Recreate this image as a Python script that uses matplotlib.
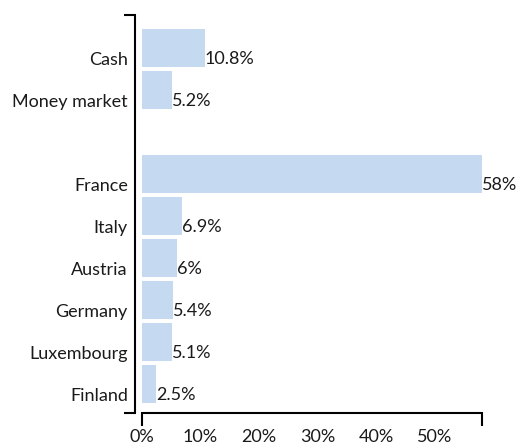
import matplotlib
matplotlib.use("Agg")
import matplotlib.pyplot as plt
from matplotlib.lines import Line2D

# data
categories = ["Cash", "Money market", "", "France", "Italy", "Austria", "Germany", "Luxembourg", "Finland"]
values = [10.8, 5.2, None, 58, 6.9, 6.0, 5.4, 5.1, 2.5]
x_ticks = [0, 10, 20, 30, 40, 50]
x_tick_labels = ["0%", "10%", "20%", "30%", "40%", "50%"]

plt.rcParams["font.family"] = ["Lato", "DejaVu Sans"]
W, H = 523, 448
fig = plt.figure(figsize=(W / 100, H / 100), dpi=100)

def fx(px):
    return px / W

def fy(py):
    return 1 - py / H

ax = fig.add_axes([fx(141.7), fy(405), fx(481.7) - fx(141.7), fy(15) - fy(405)])

bar_color = "#C5D9F1"
txt_color = "#1a1a1a"
fs = 13
off = 0.26  # labels sit a bit under bar centre
for i, (cat, v) in enumerate(zip(categories, values)):
    if v is None:
        continue
    ax.barh(i, v, height=0.905, color=bar_color)
    ax.text(v, i + off, f"{v:g}%", va="center", ha="left", fontsize=fs, color=txt_color)

ax.set_xlim(0, 58)
ax.set_ylim(8.5, -0.786)

ticks_y = [i + off for i, c in enumerate(categories) if c]
ax.set_yticks(ticks_y)
ax.set_yticklabels([c for c in categories if c], fontsize=fs, color=txt_color)
ax.set_xticks(x_ticks)
ax.set_xticklabels(x_tick_labels, fontsize=fs, color=txt_color)
ax.tick_params(axis="y", length=0, pad=10)
ax.tick_params(axis="x", length=0, pad=17.5)
for s in ax.spines.values():
    s.set_visible(False)

# bracket style axis lines
lw = 1.5
def seg(x0, y0, x1, y1):
    fig.add_artist(Line2D([fx(x0), fx(x1)], [fy(y0), fy(y1)], transform=fig.transFigure,
                          color="black", linewidth=lw, solid_capstyle="butt"))

seg(135, 15, 135, 413)
seg(124, 15, 135.7, 15)
seg(124, 413, 135.7, 413)
seg(141.7, 413, 481.7, 413)
seg(141.7, 412.3, 141.7, 426)
seg(481.7, 412.3, 481.7, 426)

fig.savefig("out.png", dpi=100)
